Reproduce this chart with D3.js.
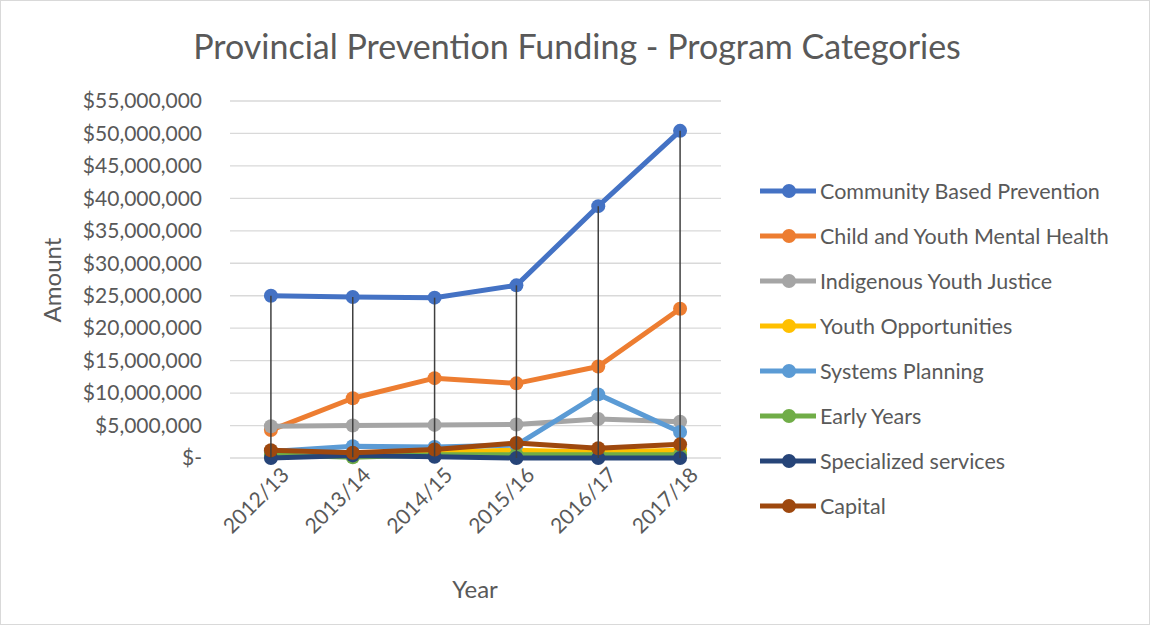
<!DOCTYPE html>
<html>
<head>
    <meta charset="utf-8">
    <script src="https://cdn.jsdelivr.net/npm/d3@7"></script>
    <title>Provincial Prevention Funding</title>
    <style>
        body { margin: 0; background: #fff; }
        svg text { font-family: Lato, "Open Sans", sans-serif; fill: #595959; }
    </style>
</head>
<body>
<svg width="1151" height="626"></svg>

<script>
    // data, in dollars (rough for the small series)
    const years = ["2012/13", "2013/14", "2014/15", "2015/16", "2016/17", "2017/18"];
    const seriesNames = ["Community Based Prevention", "Child and Youth Mental Health",
        "Indigenous Youth Justice", "Youth Opportunities", "Systems Planning",
        "Early Years", "Specialized services", "Capital"];
    const communityBased = [25000000, 24800000, 24700000, 26600000, 38800000, 50400000];
    const childYouthMH = [4300000, 9200000, 12300000, 11500000, 14100000, 23000000];
    const indigenousYJ = [4900000, 5000000, 5100000, 5150000, 6000000, 5600000];
    const youthOpp = [200000, 300000, 900000, 1200000, 900000, 1200000];
    const systemsPlanning = [1000000, 1800000, 1700000, 2000000, 9800000, 4000000];
    const earlyYears = [500000, 100000, 500000, 500000, 500000, 500000];
    const specialized = [0, 400000, 200000, 0, 0, 0];
    const capital = [1200000, 800000, 1300000, 2300000, 1500000, 2100000];
    const yTicks = [0, 5e6, 10e6, 15e6, 20e6, 25e6, 30e6, 35e6, 40e6, 45e6, 50e6, 55e6];

    const colors = ["#4472C4", "#ED7D31", "#A5A5A5", "#FFC000", "#5B9BD5", "#70AD47", "#264478", "#9E480E"];
    const allValues = [communityBased, childYouthMH, indigenousYJ, youthOpp, systemsPlanning, earlyYears, specialized, capital];

    const series = seriesNames.map((name, i) => ({ name: name, color: colors[i], values: allValues[i] }));

    const svg = d3.select("svg");
    const plotLeft = 230, plotRight = 721, plotTop = 101, plotBottom = 458;
    const lineW = 5, dotR = 7;

    // chart border
    svg.append("rect")
        .attr("x", 0.5).attr("y", 0.5).attr("width", 1149).attr("height", 624)
        .attr("fill", "none").attr("stroke", "#d9d9d9");

    const x = d3.scaleBand().domain(years).range([plotLeft, plotRight]);
    const y = d3.scaleLinear().domain([0, 55e6]).range([plotBottom, plotTop]);
    const cx = (d) => x(d) + x.bandwidth() / 2;

    // gridlines
    svg.append("g").selectAll("line")
        .data(yTicks)
        .enter().append("line")
        .attr("x1", plotLeft).attr("x2", plotRight)
        .attr("y1", (d) => y(d)).attr("y2", (d) => y(d))
        .attr("stroke", "#d9d9d9").attr("stroke-width", 1.3);

    // y axis labels
    const fmt = (d) => d === 0 ? "$-" : "$" + d3.format(",")(d);
    const yAxis = svg.append("g")
        .attr("transform", "translate(" + (plotLeft - 28) + ",0)")
        .call(d3.axisLeft(y).tickValues(yTicks).tickFormat(fmt).tickSize(0).tickPadding(0));
    yAxis.select(".domain").remove();
    yAxis.selectAll("text")
        .style("font-size", "21px")
        .style("font-family", "Lato, 'Open Sans', sans-serif")
        .attr("fill", "#595959");

    // x axis labels, rotated
    const xAxis = svg.append("g")
        .attr("transform", "translate(0," + (plotBottom + 8) + ")")
        .call(d3.axisBottom(x).tickSize(0).tickPadding(0));
    xAxis.select(".domain").remove();
    xAxis.selectAll("text")
        .style("font-size", "21px")
        .style("font-family", "Lato, 'Open Sans', sans-serif")
        .attr("fill", "#595959")
        .attr("text-anchor", "end")
        .attr("dy", "0.7em")
        .attr("transform", "translate(9,0) rotate(-45)");

    // lines + markers
    const line = d3.line()
        .x((d, i) => cx(years[i]))
        .y((d) => y(d));

    series.forEach((s) => {
        const g = svg.append("g");
        g.append("path")
            .datum(s.values)
            .attr("d", line)
            .attr("fill", "none")
            .attr("stroke", s.color)
            .attr("stroke-width", lineW)
            .attr("stroke-linejoin", "round");
        g.selectAll("circle")
            .data(s.values)
            .enter().append("circle")
            .attr("cx", (d, i) => cx(years[i]))
            .attr("cy", (d) => y(d))
            .attr("r", dotR)
            .attr("fill", s.color);
    });

    // high-low lines
    svg.append("g").selectAll("line")
        .data(years)
        .enter().append("line")
        .attr("x1", (d) => cx(d)).attr("x2", (d) => cx(d))
        .attr("y1", (d, i) => y(d3.max(allValues, (v) => v[i])))
        .attr("y2", (d, i) => y(d3.min(allValues, (v) => v[i])))
        .attr("stroke", "#404040").attr("stroke-width", 1.5);

    // legend
    const legend = svg.append("g").selectAll("g")
        .data(series)
        .enter().append("g")
        .attr("transform", (d, i) => "translate(760," + (191 + i * 45) + ")");
    legend.append("line")
        .attr("x1", 0).attr("x2", 56)
        .attr("stroke", (d) => d.color).attr("stroke-width", lineW);
    legend.append("circle")
        .attr("cx", 29).attr("r", dotR)
        .attr("fill", (d) => d.color);
    legend.append("text")
        .attr("x", 60).attr("dy", "0.35em")
        .style("font-size", "21.5px")
        .text((d) => d.name);

    // titles
    svg.append("text")
        .attr("x", 577).attr("y", 59)
        .attr("text-anchor", "middle")
        .style("font-size", "34px")
        .text("Provincial Prevention Funding - Program Categories");

    svg.append("text")
        .attr("x", 475).attr("y", 598)
        .attr("text-anchor", "middle")
        .style("font-size", "24px")
        .text("Year");

    svg.append("text")
        .attr("transform", "translate(61,280) rotate(-90)")
        .attr("text-anchor", "middle")
        .style("font-size", "24px")
        .text("Amount");
</script>
</body>
</html>
